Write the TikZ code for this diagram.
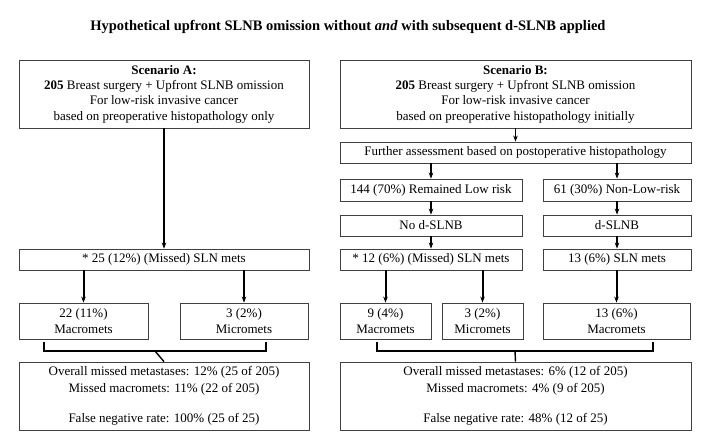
\documentclass[tikz,border=0pt]{standalone}
\usepackage{fontspec}
\setmainfont{Liberation Serif}
\usetikzlibrary{calc,arrows.meta}
\usetikzlibrary{positioning}

\begin{document}
\begin{tikzpicture}[
    x=1pt, y=-1pt,
    box style/.style={draw=black!75, line width=0.8pt, align=center, inner sep=1pt,
        font=\fontsize{13}{15.3}\selectfont},
    sum style/.style={box style, font=\fontsize{13}{17}\selectfont},
    arr/.style={line width=2pt, -{Stealth[length=6pt, width=4.5pt]}},
    thin arr/.style={line width=1.5pt, -{Stealth[length=6pt, width=4.5pt]}},
    brace line/.style={line width=1.4pt}
]

% FIXED BOUNDING BOX (pixel sized)
\path[use as bounding box, fill=white] (0,0) rectangle (709,439);

\node[font=\fontsize{14.5}{17}\selectfont\bfseries] (T) at (348,27)
    {Hypothetical upfront SLNB omission without \textit{and} with subsequent d-SLNB applied};

% scenario A
\node[box style, minimum width=290pt, minimum height=68pt] (A) at (164,94)
    {\textbf{Scenario A:}\\ \textbf{205} Breast surgery + Upfront SLNB omission\\
     For low-risk invasive cancer\\ based on preoperative histopathology only};
\node[box style, minimum width=290pt, minimum height=21pt] (MA) at (164,259.5)
    {* 25 (12\%) (Missed) SLN mets};
\node[box style, minimum width=129pt, minimum height=36pt] (MacA) at (83.5,321)
    {22 (11\%)\\ Macromets};
\node[box style, minimum width=128pt, minimum height=36pt] (MicA) at (244,321)
    {3 (2\%)\\ Micromets};
\node[sum style, minimum width=290pt, minimum height=68pt] (SA) at (164,396)
    {Overall missed metastases: 12\% (25 of 205)\\ Missed macromets: 11\% (22 of 205)\\[13pt]
     False negative rate: 100\% (25 of 25)};

% scenario B
\node[box style, minimum width=351pt, minimum height=68pt] (B) at (515.5,94)
    {\textbf{Scenario B:}\\ \textbf{205} Breast surgery + Upfront SLNB omission\\
     For low-risk invasive cancer\\ based on preoperative histopathology initially};
\node[box style, minimum width=351pt, minimum height=21pt] (F) at (515.5,152.5)
    {Further assessment based on postoperative histopathology};
\node[box style, minimum width=182pt, minimum height=22pt] (L) at (431,190)
    {144 (70\%) Remained Low risk};
\node[box style, minimum width=148pt, minimum height=22pt] (N) at (617,190)
    {61 (30\%) Non-Low-risk};
\node[box style, minimum width=182pt, minimum height=21pt] (ND) at (431,225.5) {No d-SLNB};
\node[box style, minimum width=148pt, minimum height=21pt] (D) at (617,225.5) {d-SLNB};
\node[box style, minimum width=182pt, minimum height=21pt] (MB) at (431,259.5)
    {* 12 (6\%) (Missed) SLN mets};
\node[box style, minimum width=148pt, minimum height=21pt] (M) at (617,259.5)
    {13 (6\%) SLN mets};
\node[box style, minimum width=91pt, minimum height=36pt] (MacB) at (385.5,321)
    {9 (4\%)\\ Macromets};
\node[box style, minimum width=81pt, minimum height=36pt] (MicB) at (482.5,321)
    {3 (2\%)\\ Micromets};
\node[box style, minimum width=147pt, minimum height=36pt] (MacC) at (616.5,321)
    {13 (6\%)\\ Macromets};
\node[sum style, minimum width=351pt, minimum height=68pt] (SB) at (515.5,396)
    {Overall missed metastases: 6\% (12 of 205)\\ Missed macromets: 4\% (9 of 205)\\[13pt]
     False negative rate: 48\% (12 of 25)};

% arrows
\draw[arr] (A) -- (MA);
\draw[arr] (MA.south -| MacA) -- (MacA.north);
\draw[arr] (MA.south -| MicA) -- (MicA.north);
\draw[thin arr] (B) -- (F);
\draw[thin arr] (F.south -| L) -- (L.north);
\draw[thin arr] (F.south -| N) -- (N.north);
\draw[thin arr] (L) -- (ND);
\draw[thin arr] (N) -- (D);
\draw[thin arr] (ND) -- (MB);
\draw[thin arr] (D) -- (M);
\draw[arr] (MB.south -| MacB) -- (MacB.north);
\draw[arr] (MB.south -| MicB) -- (MicB.north);
\draw[arr] (M.south -| MacC) -- (MacC.north);

% brackets
\coordinate (a1) at (44,342);
\coordinate (a2) at (266,342);
\coordinate (b1) at (377,342);
\coordinate (b2) at (653,342);
\draw[brace line] (a1) |- ($(a2)+(0,9)$) -- (a2);
\draw[brace line] ($(a1)!.5!(a2)+(0,9)$) -- (SA.north);
\draw[brace line] (b1) |- ($(b2)+(0,9)$) -- (b2);
\draw[brace line] ($(b1)!.5!(b2)+(0,9)$) -- (SB.north);

\end{tikzpicture}
\end{document}
